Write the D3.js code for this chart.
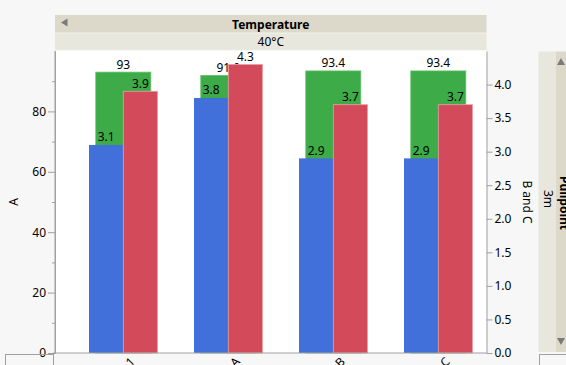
<!DOCTYPE html>
<html><head><meta charset="utf-8">
<script src="https://cdn.jsdelivr.net/npm/d3@7"></script>
<style>
html,body{margin:0;padding:0;background:#f7f7f7;overflow:hidden}
text{font-family:"Noto Sans","Open Sans",sans-serif}
</style></head>
<body><svg id="c" width="566" height="365"></svg>
<script>
const categories = ["Lot-1", "Lot-A", "Lot-B", "Lot-C"];
const seriesA = [93, 91.9, 93.4, 93.4];
const seriesB = [3.1, 3.8, 2.9, 2.9];
const seriesC = [3.9, 4.3, 3.7, 3.7];
const leftMajor = [0, 20, 40, 60, 80];
const leftMinor = [10, 30, 50, 70, 90];
const rightTicks = [0, 0.5, 1, 1.5, 2, 2.5, 3, 3.5, 4];

const svg = d3.select("#c");
const L = 55, R = 486.5, T = 51, B = 353;
const fs = 12;

svg.append("rect").attr("width",566).attr("height",365).attr("fill","#f7f7f7");
svg.append("rect").attr("x",L).attr("y",T).attr("width",R-L).attr("height",B-T).attr("fill","#fff");

// header strips
svg.append("rect").attr("x",L).attr("y",15).attr("width",R-L).attr("height",18).attr("fill","#dcd9ca");
svg.append("rect").attr("x",L).attr("y",33).attr("width",R-L).attr("height",17).attr("fill","#e8e7de");
svg.append("line").attr("x1",L).attr("x2",R).attr("y1",33).attr("y2",33).attr("stroke","#f4f3ee");
svg.append("path").attr("d",`M61,22.5 L67.5,18.5 L67.5,26.5 Z`).attr("fill","#7a7a7a");
svg.append("text").attr("x",(L+R)/2).attr("y",28.5).attr("text-anchor","middle")
  .attr("font-size",fs).attr("font-weight","bold").text("Temperature");
svg.append("text").attr("x",(L+R)/2).attr("y",46).attr("text-anchor","middle")
  .attr("font-size",fs).text("40°C");

// right strips
svg.append("rect").attr("x",538.5).attr("y",51.5).attr("width",18).attr("height",300.5).attr("fill","#e8e7de");
svg.append("rect").attr("x",556).attr("y",51.5).attr("width",10).attr("height",300.5).attr("fill","#dcd9ca");
svg.append("path").attr("d",`M561,58 L565,65 L557,65 Z`).attr("fill","#7a7a7a");
svg.append("path").attr("d",`M561,345 L565,338 L557,338 Z`).attr("fill","#7a7a7a");
svg.append("text").attr("transform",`translate(544,199) rotate(90)`).attr("text-anchor","middle")
  .attr("font-size",fs).text("3m");
svg.append("text").attr("transform",`translate(560,203) rotate(90)`).attr("text-anchor","middle")
  .attr("font-size",fs).attr("font-weight","bold").text("Pullpoint");

// scales
const x = d3.scalePoint().domain(categories).range([123.3, 438.3]);
const yL = d3.scaleLinear().domain([0,100]).range([B, T]);
const yR = d3.scaleLinear().domain([0,4.5]).range([B, T]);
const gw = 55, bw = 34.3;

const data = categories.map((c,i)=>({c, a:seriesA[i], b:seriesB[i], cc:seriesC[i]}));
const g = svg.append("g");
g.selectAll(".ga").data(data).join("rect")
  .attr("x",d=>x(d.c)-gw/2).attr("width",gw)
  .attr("y",d=>yL(d.a)).attr("height",d=>B-yL(d.a))
  .attr("fill","#3dab47").attr("stroke","#62bf69").attr("stroke-width",0.8);
g.selectAll(".la").data(data).join("text")
  .attr("x",d=>x(d.c)).attr("y",d=>yL(d.a)-3.5).attr("text-anchor","middle")
  .attr("font-size",fs).text(d=>d.a);
g.selectAll(".gb").data(data).join("rect")
  .attr("x",d=>x(d.c)-bw).attr("width",bw)
  .attr("y",d=>yR(d.b)).attr("height",d=>B-yR(d.b))
  .attr("fill","#4270db");
g.selectAll(".lb").data(data).join("text")
  .attr("x",d=>x(d.c)-bw/2).attr("y",d=>yR(d.b)-3.5).attr("text-anchor","middle")
  .attr("font-size",fs).text(d=>d3.format(".1f")(d.b));
g.selectAll(".gc").data(data).join("rect")
  .attr("x",d=>x(d.c)).attr("width",bw)
  .attr("y",d=>yR(d.cc)).attr("height",d=>B-yR(d.cc))
  .attr("fill","#d34a5a").attr("stroke","#eaa0a8").attr("stroke-width",0.8);
g.selectAll(".lc").data(data).join("text")
  .attr("x",d=>x(d.c)+bw/2).attr("y",d=>yR(d.cc)-3.5).attr("text-anchor","middle")
  .attr("font-size",fs).text(d=>d3.format(".1f")(d.cc));

// left axis
svg.append("g").attr("transform",`translate(${L},0)`)
  .call(d3.axisLeft(yL).tickValues(leftMajor).tickSize(7).tickSizeOuter(0).tickPadding(2));
svg.append("g").attr("transform",`translate(${L},0)`)
  .call(d3.axisLeft(yL).tickValues(leftMinor).tickSize(3).tickFormat("").tickSizeOuter(0));
// right axis
svg.append("g").attr("transform",`translate(${R},0)`)
  .call(d3.axisRight(yR).tickValues(rightTicks).tickSize(6).tickSizeOuter(0).tickPadding(2).tickFormat(d3.format(".1f")));
svg.selectAll(".domain").attr("stroke","#a0a0a0");
svg.selectAll(".tick line").attr("stroke","#a0a0a0");
svg.selectAll(".tick text").attr("font-size",fs).attr("fill","#000").attr("font-family","Noto Sans");

// x axis line
svg.append("line").attr("x1",53).attr("x2",R).attr("y1",B).attr("y2",B).attr("stroke","#a0a0a0");
svg.append("line").attr("x1",L).attr("x2",L).attr("y1",T).attr("y2",B).attr("stroke","#a0a0a0");
svg.append("rect").attr("x",5.5).attr("y",354.5).attr("width",48).attr("height",20)
  .attr("fill","none").attr("stroke","#a0a0a0");
svg.append("rect").attr("x",539.5).attr("y",354.5).attr("width",40).attr("height",20)
  .attr("fill","none").attr("stroke","#a0a0a0");

// x labels (rotated, mostly cut off by the window edge as in the reference)
svg.append("g").selectAll("text").data(categories).join("text")
  .attr("transform",d=>`translate(${x(d)+6},${B+3}) rotate(-45)`)
  .attr("text-anchor","end").attr("dy","0.75em").attr("font-size",fs).text(d=>d);

// axis titles
svg.append("text").attr("transform",`translate(18,202) rotate(-90)`).attr("text-anchor","middle")
  .attr("font-size",fs).text("A");
svg.append("text").attr("transform",`translate(523,202) rotate(90)`).attr("text-anchor","middle")
  .attr("font-size",fs).text("B and C");
</script></body></html>
